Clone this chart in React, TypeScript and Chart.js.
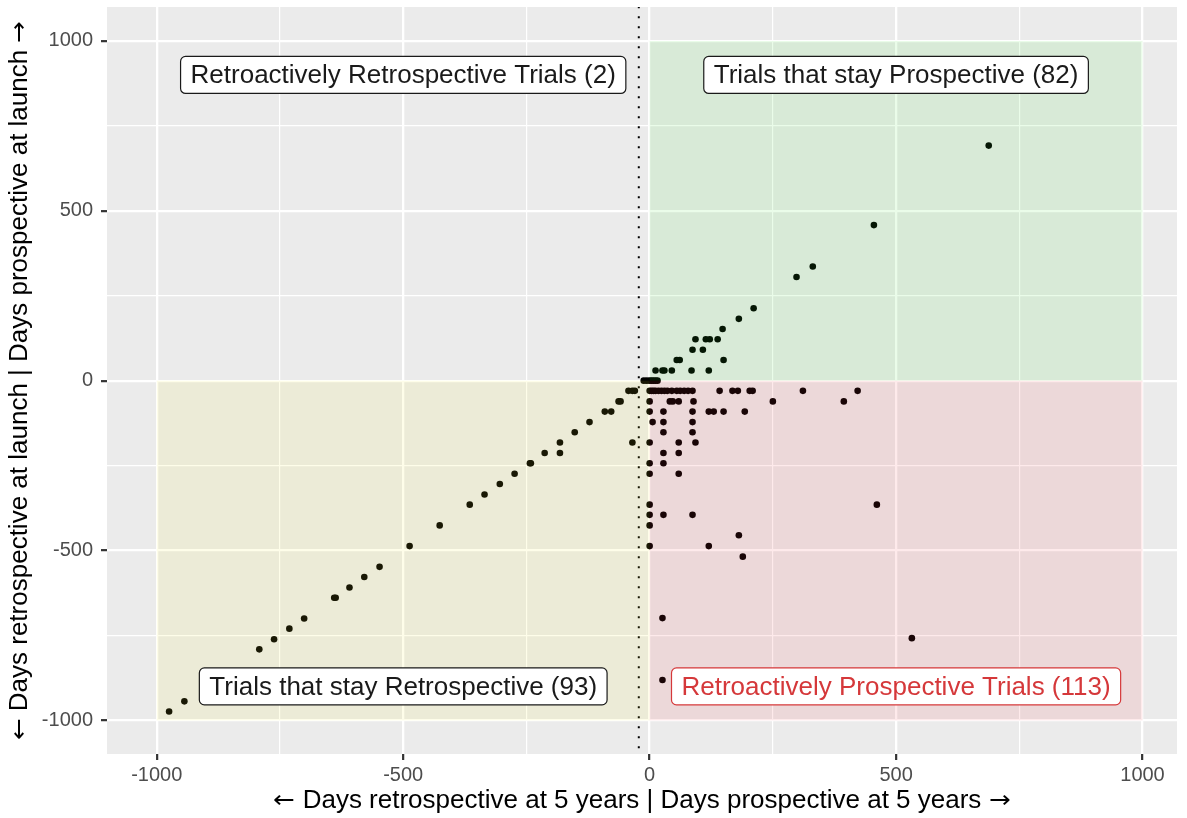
import React, { useEffect, useRef } from 'react';
import { Chart, registerables } from 'chart.js';

Chart.register(...registerables);

// Trials that stay retrospective (x < 0, y < 0)
const stayRetroX = [-975, -944, -792, -762, -731, -701, -640, -637, -609, -579, -548, -487, -426, -365, -335, -304, -274, -243, -241, -213, -182, -182, -152, -122, -91, -78, -63, -59, -43, -35, -30, -35];
const stayRetroY = [-974, -944, -791, -761, -730, -700, -639, -639, -609, -578, -548, -487, -426, -365, -335, -304, -274, -243, -243, -213, -182, -213, -152, -122, -91, -91, -61, -61, -30, -30, -30, -182];

// Trials that stay prospective (x >= 0, y >= 0)
const stayProX = [688, 455, 298, 331, 211, 181, 148, 93, 114, 122, 138, 87, 108, 55, 61, 150, 12, 26, 30, 45, 85, 120, -12, -6, 0, 4, 8, 12, 16];
const stayProY = [692, 458, 305, 336, 213, 182, 152, 122, 122, 122, 122, 91, 91, 61, 61, 61, 30, 30, 30, 30, 30, 30, 0, 0, 0, 0, 0, 0, 0];

// Retroactively prospective trials (x >= 0, y < 0)
const retroProX = [
  0, 4, 8, 12, 18, 24, 30, 36, 45, 55, 62, 70, 78, 87, 142, 168, 179, 203, 209, 311, 422,
  0, 41, 47, 59, 89, 250, 394,
  0, 28, 87, 120, 130, 150, 193,
  6, 28, 87,
  28, 87,
  0, 59, 93,
  28, 59,
  0, 28,
  0, 59,
  0, 461,
  0, 28, 87,
  0,
  181,
  0, 120,
  189,
  26, 26, 532,
];
const retroProY = [
  -30, -30, -30, -30, -30, -30, -30, -30, -30, -30, -30, -30, -30, -30, -30, -30, -30, -30, -30, -30, -30,
  -61, -61, -61, -61, -61, -61, -61,
  -91, -91, -91, -91, -91, -91, -91,
  -122, -122, -122,
  -152, -152,
  -182, -182, -182,
  -213, -213,
  -243, -243,
  -274, -274,
  -365, -365,
  -395, -395, -395,
  -426,
  -455,
  -487, -487,
  -518,
  -699, -881, -758,
];

const dottedLineX = -22;

const tickValues = [-1000, -750, -500, -250, 0, 250, 500, 750, 1000];
const majorTicks = [-1000, -500, 0, 500, 1000];

const regionX0 = [-1000, 0, 0];
const regionX1 = [0, 1000, 1000];
const regionY0 = [-1000, 0, -1000];
const regionY1 = [0, 1000, 0];
const regionColors = ['rgba(250, 240, 40, 0.1)', 'rgba(50, 225, 40, 0.1)', 'rgba(250, 50, 60, 0.1)'];

const labelTexts = [
  'Retroactively Retrospective Trials (2)',
  'Trials that stay Prospective (82)',
  'Trials that stay Retrospective (93)',
  'Retroactively Prospective Trials (113)',
];
const labelX = [-500, 500, -500, 500];
const labelY = [900, 900, -900, -900];
const labelColors = ['#1a1a1a', '#1a1a1a', '#1a1a1a', '#D5383A'];

const xTitle = '\u2190 Days retrospective at 5 years | Days prospective at 5 years \u2192';
const yTitle = '\u2190 Days retrospective at launch | Days prospective at launch \u2192';

const FONT = '"Liberation Sans", Arial, Helvetica, sans-serif';
const TITLE_FONT = 'ArrowGlyphs, "Liberation Sans", Arial, Helvetica, sans-serif';

const toPoints = (xs: number[], ys: number[]) => xs.map((x, i) => ({ x, y: ys[i] }));

const isMajor = (v: number) => majorTicks.includes(v);

export default function App() {
  const ref = useRef<HTMLCanvasElement | null>(null);

  useEffect(() => {
    if (!ref.current) return;

    const style = document.createElement('style');
    style.textContent =
      "@font-face { font-family: 'ArrowGlyphs'; src: local('DejaVu Sans'); unicode-range: U+2190-2193; }";
    document.head.appendChild(style);

    const panelPlugin = {
      id: 'panel',
      beforeDraw(chart: any) {
        const { ctx, chartArea } = chart;
        ctx.save();
        ctx.fillStyle = '#EBEBEB';
        ctx.fillRect(chartArea.left, chartArea.top, chartArea.right - chartArea.left, chartArea.bottom - chartArea.top);
        ctx.restore();
      },
      afterDatasetsDraw(chart: any) {
        const { ctx, chartArea, scales } = chart;
        const xs = scales.x;
        const ys = scales.y;
        ctx.save();
        ctx.beginPath();
        ctx.rect(chartArea.left, chartArea.top, chartArea.right - chartArea.left, chartArea.bottom - chartArea.top);
        ctx.clip();
        for (let i = 0; i < regionColors.length; i++) {
          const l = xs.getPixelForValue(regionX0[i]);
          const r = xs.getPixelForValue(regionX1[i]);
          const t = ys.getPixelForValue(regionY1[i]);
          const b = ys.getPixelForValue(regionY0[i]);
          ctx.fillStyle = regionColors[i];
          ctx.fillRect(l, t, r - l, b - t);
        }
        // labels
        ctx.font = `26px ${FONT}`;
        ctx.textAlign = 'center';
        ctx.textBaseline = 'middle';
        for (let i = 0; i < labelTexts.length; i++) {
          const cx = xs.getPixelForValue(labelX[i]);
          const cy = ys.getPixelForValue(labelY[i]);
          const w = ctx.measureText(labelTexts[i]).width + 20;
          const h = 37;
          const x0 = cx - w / 2;
          const y0 = cy - h / 2;
          ctx.beginPath();
          ctx.roundRect(x0, y0, w, h, 5);
          ctx.fillStyle = '#FFFFFF';
          ctx.fill();
          ctx.lineWidth = 1.2;
          ctx.strokeStyle = labelColors[i];
          ctx.stroke();
          ctx.fillStyle = labelColors[i];
          ctx.fillText(labelTexts[i], cx, cy + 1);
        }
        ctx.restore();
      },
    };

    const gridOpts = {
      color: '#FFFFFF',
      lineWidth: (c: any) => (c.tick && isMajor(c.tick.value) ? 2.3 : 1.2),
      tickColor: (c: any) => (c.tick && isMajor(c.tick.value) ? '#333333' : 'rgba(0,0,0,0)'),
      tickWidth: 2.2,
      tickLength: 6,
      drawTicks: true,
    };

    const chart = new Chart(ref.current, {
      type: 'scatter',
      data: {
        datasets: [
          {
            label: 'Stay retrospective',
            data: toPoints(stayRetroX, stayRetroY),
            backgroundColor: '#000000',
            borderWidth: 0,
            pointRadius: 3.3,
          },
          {
            label: 'Stay prospective',
            data: toPoints(stayProX, stayProY),
            backgroundColor: '#000000',
            borderWidth: 0,
            pointRadius: 3.3,
          },
          {
            label: 'Retroactively prospective',
            data: toPoints(retroProX, retroProY),
            backgroundColor: '#000000',
            borderWidth: 0,
            pointRadius: 3.3,
          },
          {
            label: 'Divider',
            type: 'line',
            data: [
              { x: dottedLineX, y: -1200 },
              { x: dottedLineX, y: 1200 },
            ],
            borderColor: '#000000',
            borderWidth: 2,
            borderDash: [2, 8],
            pointRadius: 0,
            showLine: true,
          } as any,
        ],
      },
      options: {
        animation: false,
        responsive: false,
        devicePixelRatio: 1,
        layout: { padding: { top: 7, right: 10, bottom: 0, left: 0 } },
        plugins: {
          legend: { display: false },
          tooltip: { enabled: false },
        },
        scales: {
          x: {
            type: 'linear',
            min: -1101,
            max: 1070,
            afterBuildTicks: (s: any) => {
              s.ticks = tickValues.map((v) => ({ value: v }));
            },
            afterFit: (s: any) => {
              s.height = 64;
              s.paddingLeft = 0;
              s.paddingRight = 0;
            },
            grid: gridOpts as any,
            border: { display: false },
            ticks: {
              color: '#4D4D4D',
              font: { family: FONT, size: 20 },
              padding: 3,
              maxRotation: 0,
              autoSkip: false,
              callback: (v: any) => (isMajor(Number(v)) ? String(v) : ''),
            },
            title: {
              display: true,
              text: xTitle,
              color: '#000000',
              font: { family: TITLE_FONT, size: 26 },
              padding: { top: 0, bottom: 2 },
            },
          },
          y: {
            type: 'linear',
            min: -1099,
            max: 1100,
            afterBuildTicks: (s: any) => {
              s.ticks = tickValues.map((v) => ({ value: v }));
            },
            afterFit: (s: any) => {
              s.width = 107;
              s.paddingTop = 0;
              s.paddingBottom = 0;
            },
            grid: gridOpts as any,
            border: { display: false },
            ticks: {
              color: '#4D4D4D',
              font: { family: FONT, size: 20 },
              padding: 8,
              autoSkip: false,
              callback: (v: any) => (isMajor(Number(v)) ? String(v) : ''),
            },
            title: {
              display: true,
              text: yTitle,
              color: '#000000',
              font: { family: TITLE_FONT, size: 26 },
              padding: { top: 4, bottom: 0 },
            },
          },
        },
      },
      plugins: [panelPlugin],
    });

    let alive = true;
    if ((document as any).fonts && (document as any).fonts.load) {
      (document as any).fonts
        .load('26px ArrowGlyphs', '\u2190\u2192')
        .then(() => {
          if (alive) chart.update();
        })
        .catch(() => {});
    }

    return () => {
      alive = false;
      chart.destroy();
      style.remove();
    };
  }, []);

  return (
    <div style={{ position: 'fixed', left: 0, top: 0, width: 1187, height: 818, background: '#FFFFFF' }}>
      <canvas ref={ref} width={1187} height={818} style={{ display: 'block', width: 1187, height: 818 }} />
    </div>
  );
}
